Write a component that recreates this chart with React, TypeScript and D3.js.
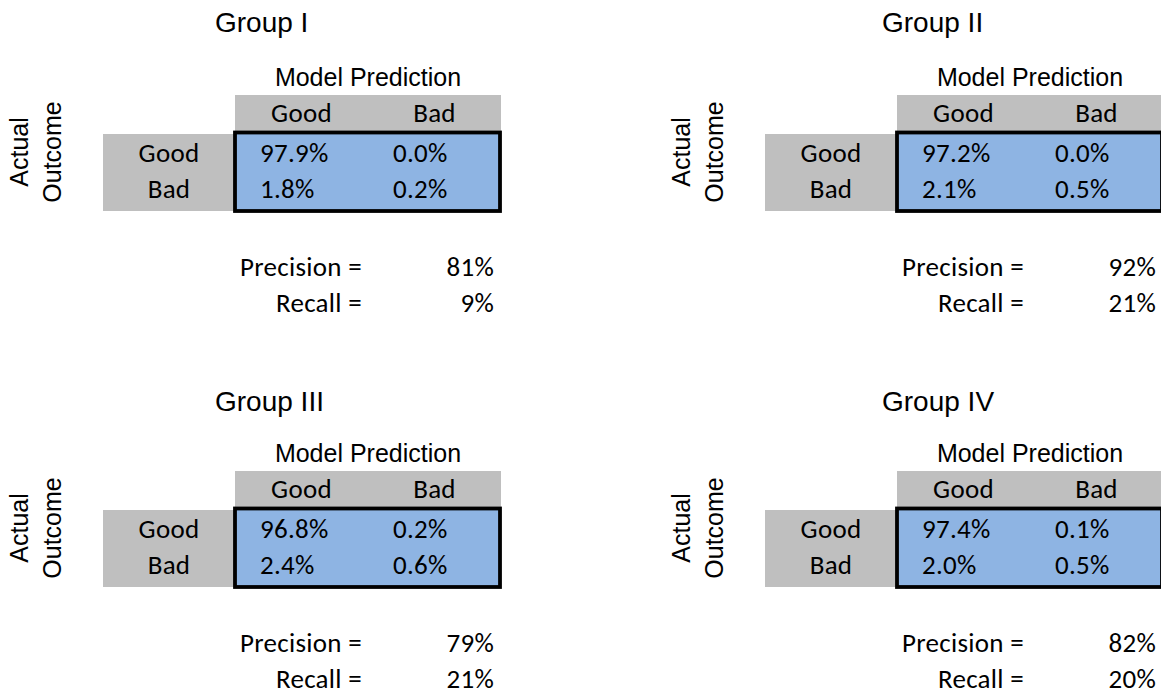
import { useEffect, useRef } from "react";
import * as d3 from "d3";

const groups = ["Group I", "Group II", "Group III", "Group IV"];
const predLabels = ["Good", "Bad"];
const actualLabels = ["Good", "Bad"];

// rows = actual outcome, cols = model prediction (percent of total)
const groupI = [[97.9, 0.0], [1.8, 0.2]];
const groupII = [[97.2, 0.0], [2.1, 0.5]];
const groupIII = [[96.8, 0.2], [2.4, 0.6]];
const groupIV = [[97.4, 0.1], [2.0, 0.5]];
const matrices = [groupI, groupII, groupIII, groupIV];

const precision = [81, 92, 79, 82];
const recall = [9, 21, 21, 20];

const COLORS = {
  gray: "#bfbfbf",
  blue: "#8eb4e3",
  border: "#000000",
  text: "#000000",
};

const ARIAL = "Arial, 'Liberation Sans', Helvetica, sans-serif";
const CALIBRI = "Calibri, Carlito, Lato, 'Noto Sans', sans-serif";
const CAL_SIZE = 27;
const CAL_SPACING = 0.3;

const W = 1161;
const H = 694;

// panel origins (2 x 2 grid)
const colOrigins = [0, 662];
const rowOrigins = [0, 376];
const titleX = [215, 220];

export default function App() {
  const svgRef = useRef<SVGSVGElement>(null);

  useEffect(() => {
    if (!svgRef.current) return;
    const svg = d3.select(svgRef.current);
    svg.selectAll("*").remove();

    svg.append("rect").attr("width", W).attr("height", H).attr("fill", "#fff");

    const xScale = d3.scaleBand().domain(predLabels).range([235, 501]);
    const yScale = d3.scalePoint().domain(actualLabels).range([162, 198]);

    // calibri-like text helper
    const calText = (sel: d3.Selection<any, any, any, any>) =>
      sel
        .attr("font-family", CALIBRI)
        .attr("font-size", CAL_SIZE)
        .attr("letter-spacing", CAL_SPACING)
        .attr("fill", COLORS.text);

    groups.forEach((name, gi) => {
      const col = gi % 2;
      const row = Math.floor(gi / 2);
      const g = svg
        .append("g")
        .attr("transform", `translate(${colOrigins[col]},${rowOrigins[row]})`);

      // title
      g.append("text")
        .attr("x", titleX[col])
        .attr("y", 32 + row * 3)
        .attr("font-family", ARIAL)
        .attr("font-size", 28)
        .attr("fill", COLORS.text)
        .text(name);

      // Model Prediction
      const [x0, x1] = xScale.range();
      g.append("text")
        .attr("x", (x0 + x1) / 2)
        .attr("y", 86)
        .attr("text-anchor", "middle")
        .attr("font-family", ARIAL)
        .attr("font-size", 25)
        .attr("fill", COLORS.text)
        .text("Model Prediction");

      // Actual Outcome (rotated)
      ["Actual", "Outcome"].forEach((t, i) => {
        g.append("text")
          .attr("transform", `translate(${28 + i * 33},152) rotate(-90)`)
          .attr("text-anchor", "middle")
          .attr("font-family", ARIAL)
          .attr("font-size", 25)
          .attr("fill", COLORS.text)
          .text(t);
      });

      // header gray
      g.append("rect")
        .attr("x", x0)
        .attr("y", 95)
        .attr("width", x1 - x0)
        .attr("height", 36)
        .attr("fill", COLORS.gray);

      // row label gray
      g.append("rect")
        .attr("x", 103)
        .attr("y", 134)
        .attr("width", x0 - 103)
        .attr("height", 77)
        .attr("fill", COLORS.gray);

      // blue matrix with heavy border
      g.append("rect")
        .attr("x", x0)
        .attr("y", 132.5)
        .attr("width", x1 - x0 - 1)
        .attr("height", 78.5)
        .attr("fill", COLORS.blue)
        .attr("stroke", COLORS.border)
        .attr("stroke-width", 3.8);

      // column labels
      g.selectAll("text.col-label")
        .data(predLabels)
        .join("text")
        .attr("class", "col-label")
        .attr("x", (d) => (xScale(d) ?? 0) + xScale.bandwidth() / 2)
        .attr("y", 122)
        .attr("text-anchor", "middle")
        .call(calText)
        .text((d) => d);

      // row labels
      g.selectAll("text.row-label")
        .data(actualLabels)
        .join("text")
        .attr("class", "row-label")
        .attr("x", (103 + x0) / 2)
        .attr("y", (d) => yScale(d) ?? 0)
        .attr("text-anchor", "middle")
        .call(calText)
        .text((d) => d);

      // cell values
      const cells = matrices[gi].flatMap((r, ri) =>
        r.map((v, ci) => ({ row: actualLabels[ri], col: predLabels[ci], v }))
      );
      g.selectAll("text.cell")
        .data(cells)
        .join("text")
        .attr("class", "cell")
        .attr("x", (d) => (xScale(d.col) ?? 0) + 25)
        .attr("y", (d) => yScale(d.row) ?? 0)
        .call(calText)
        .text((d) => `${d.v.toFixed(1)}%`);

      // precision / recall
      const stats = [
        { label: "Precision =", value: precision[gi], y: 276 },
        { label: "Recall =", value: recall[gi], y: 312 },
      ];
      stats.forEach((s) => {
        g.append("text")
          .attr("x", 362)
          .attr("y", s.y)
          .attr("text-anchor", "end")
          .call(calText)
          .text(s.label);
        g.append("text")
          .attr("x", 494)
          .attr("y", s.y)
          .attr("text-anchor", "end")
          .call(calText)
          .text(`${s.value}%`);
      });
    });
  }, []);

  return (
    <svg
      ref={svgRef}
      width={W}
      height={H}
      style={{ position: "absolute", left: 0, top: 0, display: "block" }}
    />
  );
}
